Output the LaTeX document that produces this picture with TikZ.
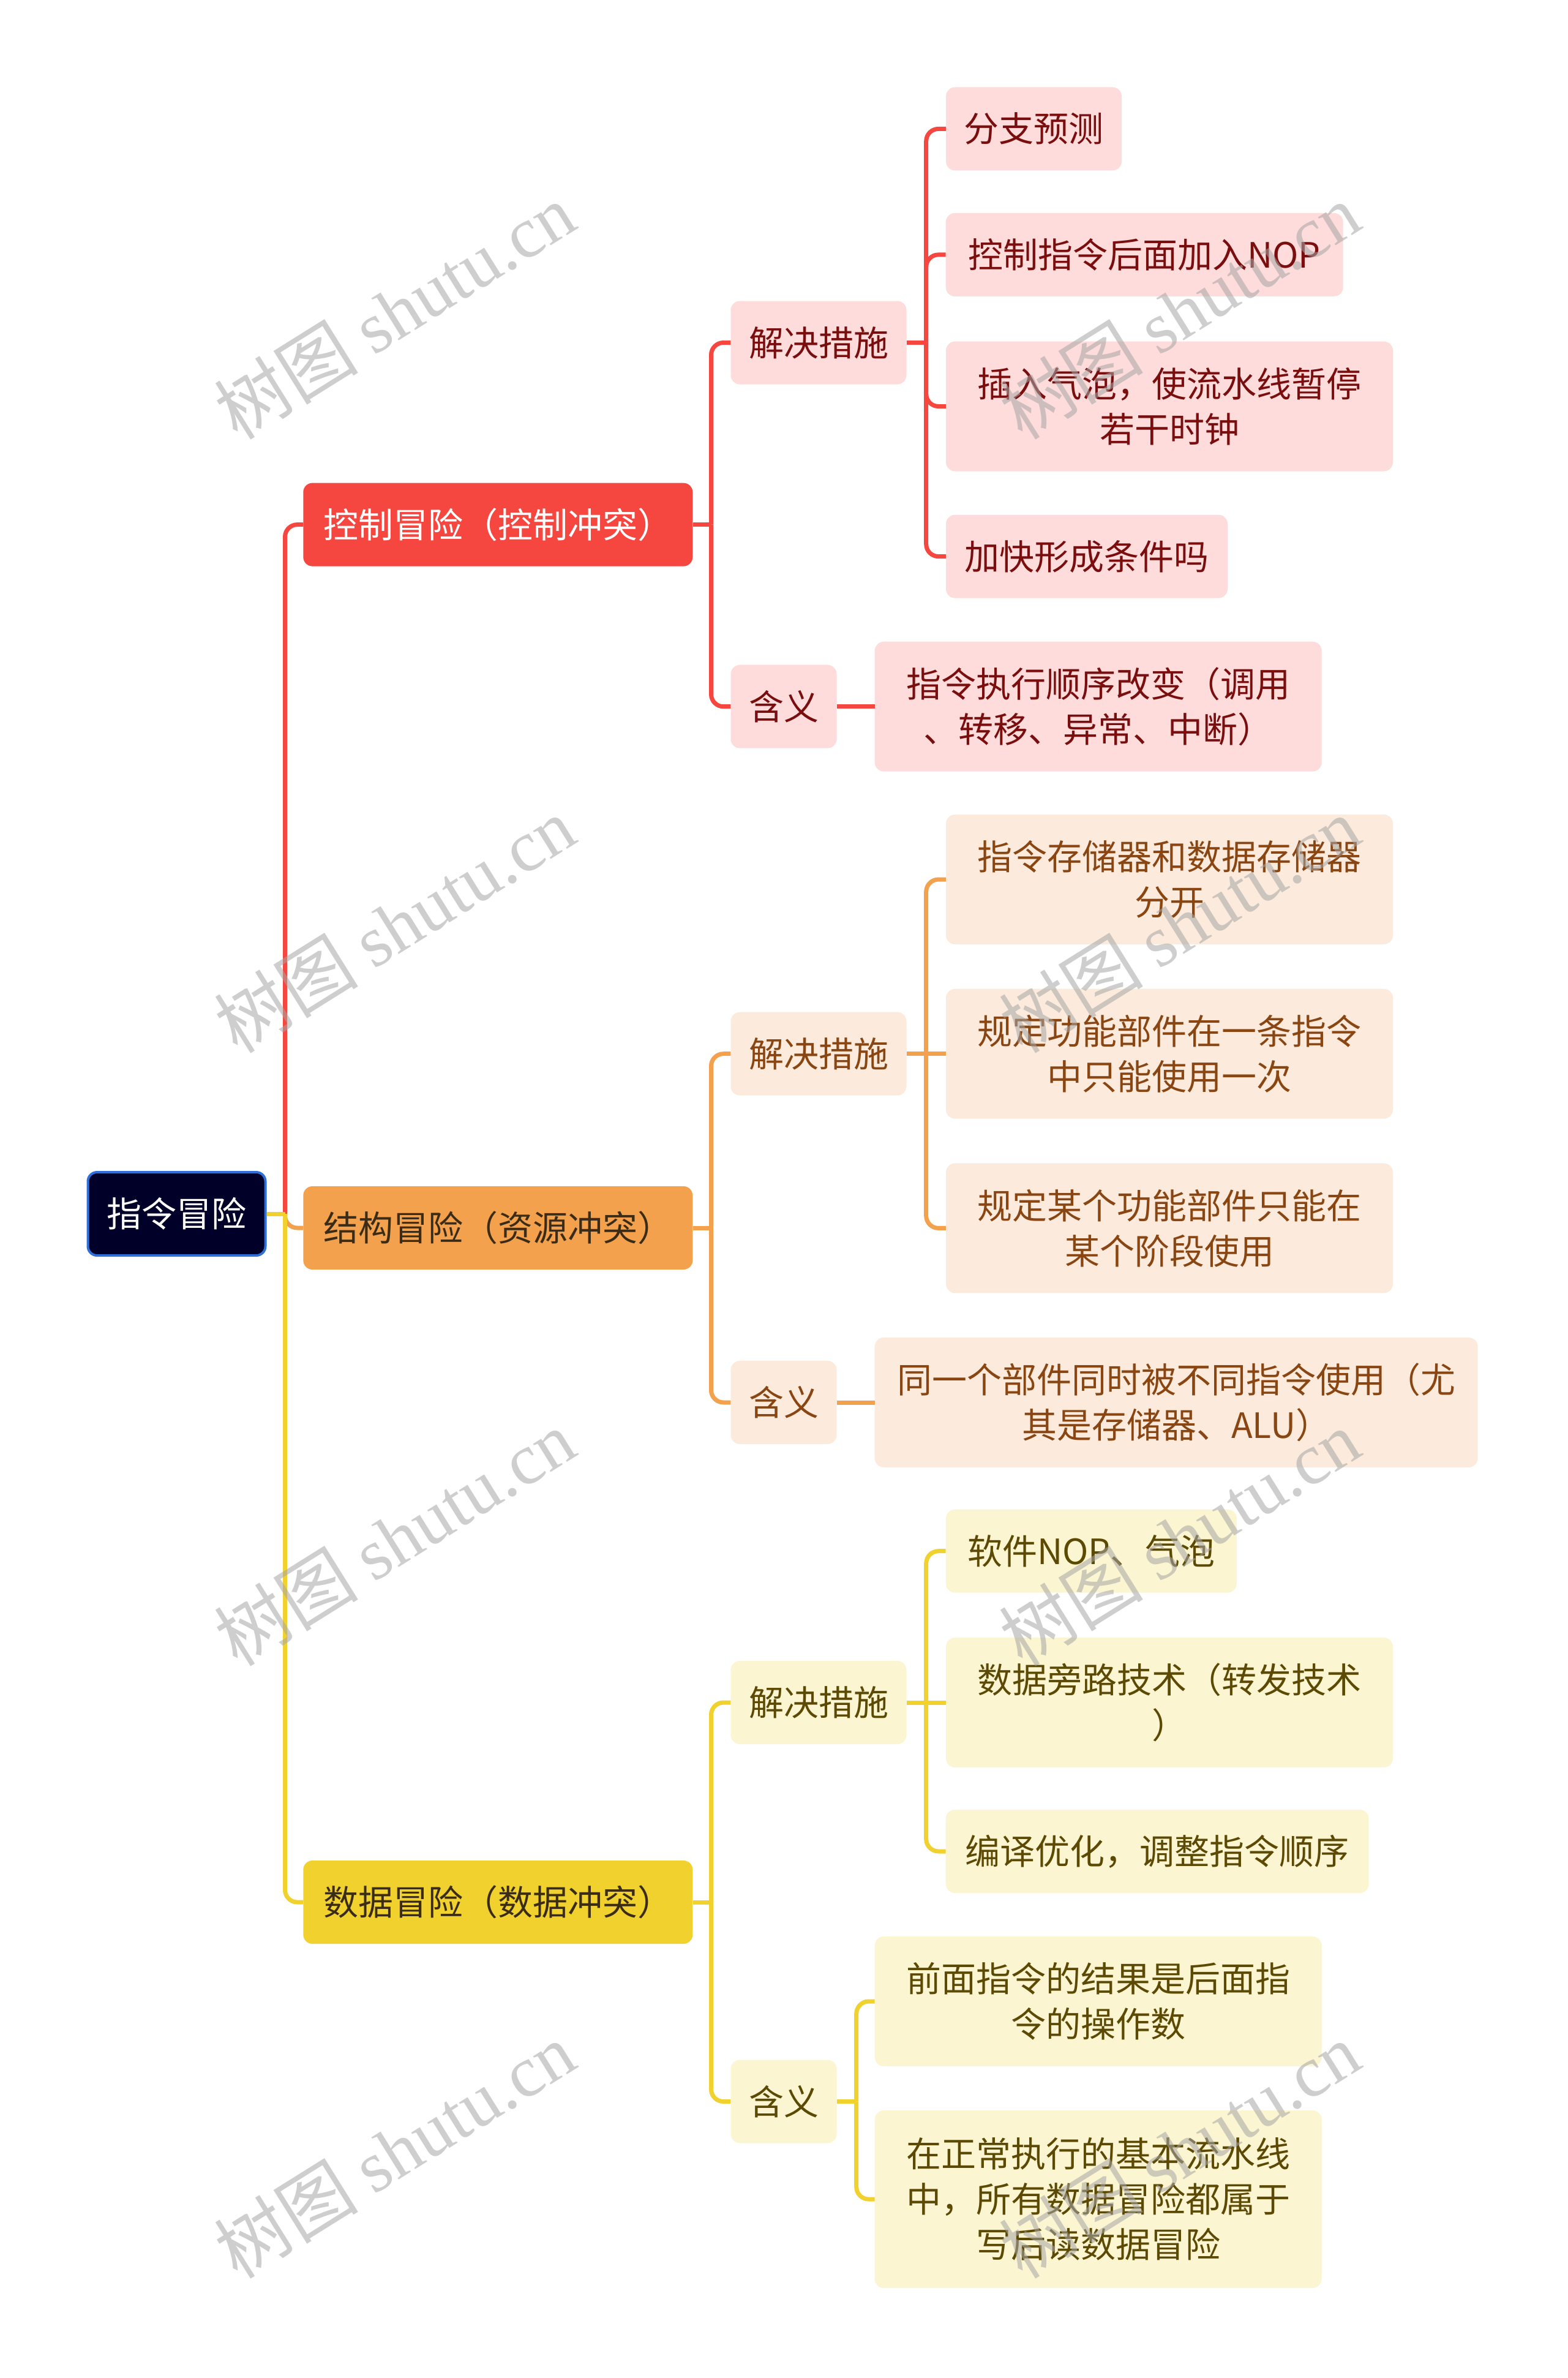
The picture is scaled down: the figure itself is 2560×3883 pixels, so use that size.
\documentclass[tikz,border=0pt]{standalone}
\usepackage{fontspec}
\setmainfont{Noto Sans CJK SC}
\newfontfamily\wmlat{Liberation Serif}
\usetikzlibrary{calc}
\definecolor{ctrlC}{HTML}{F5463F}
\definecolor{ctrlL}{HTML}{FDDCDB}
\definecolor{ctrlT}{HTML}{7A0E0E}
\definecolor{strC}{HTML}{F4A14E}
\definecolor{strL}{HTML}{FCEBDC}
\definecolor{strT}{HTML}{8A4612}
\definecolor{datC}{HTML}{F0D12E}
\definecolor{datL}{HTML}{FCF5D1}
\definecolor{datT}{HTML}{5C4A04}
\definecolor{rootF}{HTML}{000028}
\definecolor{rootB}{HTML}{2F6FD8}
\definecolor{lvT}{HTML}{3A2C16}
\newcommand\fsz{\fontsize{57}{74}\selectfont}
\newcommand\wmsz{\fontsize{118}{120}\selectfont}
\tikzset{
  box/.style={rectangle, rounded corners=15, inner sep=0pt, align=center, font=\fsz, minimum height=136},
  rootbox/.style={box, fill=rootF, draw=rootB, line width=4, text=white},
  cbox/.style={box, fill=ctrlL, text=ctrlT},
  sbox/.style={box, fill=strL, text=strT},
  dbox/.style={box, fill=datL, text=datT},
  lnR/.style={draw=ctrlC, line width=7},
  lnO/.style={draw=strC, line width=7},
  lnY/.style={draw=datC, line width=7},
  rc/.style={rounded corners=20},
  wm/.style={font=\wmsz, text=black!35, opacity=0.55, rotate=32, inner sep=0pt}
}
\begin{document}
\begin{tikzpicture}[x=1pt,y=-1pt]
\fill[white] (0,0) rectangle (2560,3883);
\useasboundingbox (0,0) rectangle (2560,3883);

% root and level 1
\node[rootbox, minimum width=290] (root) at (288.5,1982) {指令冒险};
\node[box, fill=ctrlC, text=white, minimum width=636] (ctrl) at (813.3,856.6) {控制冒险（控制冲突）};
\node[box, fill=strC, text=lvT, minimum width=636] (stru) at (813.3,2005) {结构冒险（资源冲突）};
\node[box, fill=datC, text=lvT, minimum width=636] (data) at (813.3,3106) {数据冒险（数据冲突）};

% level 2
\node[cbox, minimum width=287] (c2a) at (1337,559.5) {解决措施};
\node[cbox, minimum width=173] (c2b) at (1280,1153.7) {含义};
\node[sbox, minimum width=287] (s2a) at (1337,1720.7) {解决措施};
\node[sbox, minimum width=173] (s2b) at (1280,2290) {含义};
\node[dbox, minimum width=287] (d2a) at (1337,2780) {解决措施};
\node[dbox, minimum width=173] (d2b) at (1280,3431.5) {含义};

% level 3 control
\node[cbox, minimum width=287] (c3a) at (1688.5,210.4) {分支预测};
\node[cbox, minimum width=649] (c3b) at (1869.2,415.9) {控制指令后面加入NOP};
\node[cbox, minimum width=730, minimum height=212] (c3c) at (1910,663.5) {插入气泡，使流水线暂停\\若干时钟};
\node[cbox, minimum width=460] (c3d) at (1775,908.6) {加快形成条件吗};
\node[cbox, minimum width=730, minimum height=212] (c3e) at (1793.7,1153.7) {指令执行顺序改变（调用\\、转移、异常、中断）};

% level 3 structure
\node[sbox, minimum width=730, minimum height=212] (s3a) at (1910,1436) {指令存储器和数据存储器\\分开};
\node[sbox, minimum width=730, minimum height=212] (s3b) at (1910,1720.7) {规定功能部件在一条指令\\中只能使用一次};
\node[sbox, minimum width=730, minimum height=212] (s3c) at (1910,2005.4) {规定某个功能部件只能在\\某个阶段使用};
\node[sbox, minimum width=985, minimum height=212] (s3d) at (1921.2,2290) {同一个部件同时被不同指令使用（尤\\其是存储器、ALU）};

% level 3 data
\node[dbox, minimum width=475] (d3a) at (1782.4,2532.7) {软件NOP、气泡};
\node[dbox, minimum width=730, minimum height=212] (d3b) at (1910,2780) {数据旁路技术（转发技术\\）};
\node[dbox, minimum width=691] (d3c) at (1890.2,3023) {编译优化，调整指令顺序};
\node[dbox, minimum width=730, minimum height=212] (d3d) at (1793.7,3268) {前面指令的结果是后面指\\令的操作数};
\node[dbox, minimum width=730, minimum height=290] (d3e) at (1793.7,3591) {在正常执行的基本流水线\\中，所有数据冒险都属于\\写后读数据冒险};

% connectors root -> level 1
\coordinate (j0) at ($(root.east)+(30,0)$);
\draw[lnR] (root.east) -- (j0);
\draw[lnR,rc] (j0) |- (ctrl.west);
\draw[lnO] (root.east) -- (j0);
\draw[lnO,rc] (j0) |- (stru.west);
\draw[lnY] (root.east) -- (j0);
\draw[lnY,rc] (j0) |- (data.west);

% control
\coordinate (j1) at ($(ctrl.east)+(30,0)$);
\draw[lnR] (ctrl.east) -- (j1);
\draw[lnR,rc] (j1) |- (c2a.west);
\draw[lnR,rc] (j1) |- (c2b.west);
\coordinate (j2) at ($(c2a.east)+(32,0)$);
\draw[lnR] (c2a.east) -- (j2);
\draw[lnR,rc] (j2) |- (c3a.west);
\draw[lnR,rc] (j2) |- (c3b.west);
\draw[lnR,rc] (j2) |- (c3c.west);
\draw[lnR,rc] (j2) |- (c3d.west);
\draw[lnR] (c2b.east) -- (c3e.west);

% structure
\coordinate (j3) at ($(stru.east)+(30,0)$);
\draw[lnO] (stru.east) -- (j3);
\draw[lnO,rc] (j3) |- (s2a.west);
\draw[lnO,rc] (j3) |- (s2b.west);
\coordinate (j4) at ($(s2a.east)+(32,0)$);
\draw[lnO] (s2a.east) -- (j4);
\draw[lnO,rc] (j4) |- (s3a.west);
\draw[lnO] (j4) -- (s3b.west);
\draw[lnO,rc] (j4) |- (s3c.west);
\draw[lnO] (s2b.east) -- (s3d.west);

% data
\coordinate (j5) at ($(data.east)+(30,0)$);
\draw[lnY] (data.east) -- (j5);
\draw[lnY,rc] (j5) |- (d2a.west);
\draw[lnY,rc] (j5) |- (d2b.west);
\coordinate (j6) at ($(d2a.east)+(32,0)$);
\draw[lnY] (d2a.east) -- (j6);
\draw[lnY,rc] (j6) |- (d3a.west);
\draw[lnY] (j6) -- (d3b.west);
\draw[lnY,rc] (j6) |- (d3c.west);
\coordinate (j7) at ($(d2b.east)+(32,0)$);
\draw[lnY] (d2b.east) -- (j7);
\draw[lnY,rc] (j7) |- (d3d.west);
\draw[lnY,rc] (j7) |- (d3e.west);

% watermarks
\foreach \wy [count=\i] in {508,1510,2511,3511}{
  \node[wm] (wl\i) at (644,\wy) {树图 {\wmlat shutu.cn}};
  \node[wm] (wr\i) at (1926,\wy) {树图 {\wmlat shutu.cn}};
}
\end{tikzpicture}
\end{document}
